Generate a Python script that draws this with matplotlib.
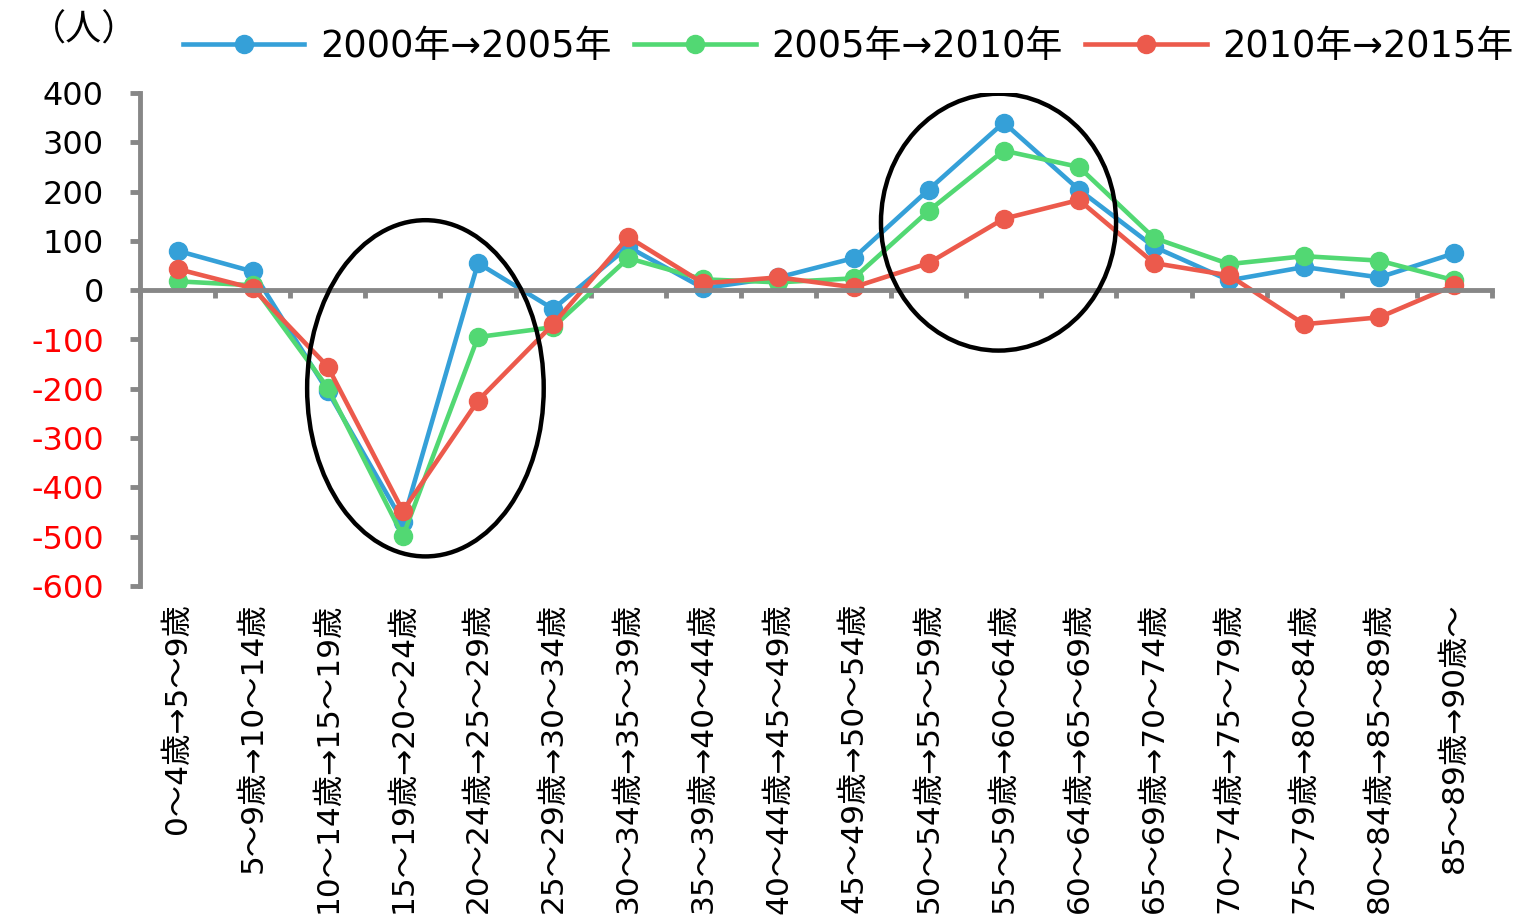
import matplotlib
matplotlib.use("Agg")
import matplotlib.pyplot as plt
from matplotlib.patches import Ellipse
import numpy as np

plt.rcParams['font.family'] = ['DejaVu Sans', 'Noto Sans CJK JP']
plt.rcParams['axes.unicode_minus'] = False

categories = ["0〜4歳→5〜9歳", "5〜9歳→10〜14歳", "10〜14歳→15〜19歳", "15〜19歳→20〜24歳",
              "20〜24歳→25〜29歳", "25〜29歳→30〜34歳", "30〜34歳→35〜39歳", "35〜39歳→40〜44歳",
              "40〜44歳→45〜49歳", "45〜49歳→50〜54歳", "50〜54歳→55〜59歳", "55〜59歳→60〜64歳",
              "60〜64歳→65〜69歳", "65〜69歳→70〜74歳", "70〜74歳→75〜79歳", "75〜79歳→80〜84歳",
              "80〜84歳→85〜89歳", "85〜89歳→90歳〜"]
series_names = ["2000年→2005年", "2005年→2010年", "2010年→2015年"]
s2000_2005 = [80, 38, -205, -470, 55, -38, 88, 4, 26, 65, 204, 340, 204, 88, 20, 47, 26, 75]
s2005_2010 = [18, 10, -198, -499, -95, -75, 65, 22, 16, 24, 161, 283, 250, 106, 53, 69, 60, 20]
s2010_2015 = [43, 4, -155, -448, -224, -69, 108, 14, 26, 6, 55, 145, 183, 55, 30, -69, -55, 10]
y_ticks = list(range(-600, 401, 100))
unit_label = "（人）"

# highlight ellipses (center x, center y, width, height) in data units
ellipses = [(3.30, -199, 3.15, 682), (10.93, 138, 3.13, 521)]

colors = ["#35A0D8", "#52D873", "#EC5A4C"]
axis_gray = "#878787"

fig = plt.figure(figsize=(15.27, 9.22), dpi=100)
ax = fig.add_axes([140/1527, 1 - 586/922, (1492-140)/1527, (586-93)/922])

x = np.arange(len(categories))
for vals, c, name in zip([s2000_2005, s2005_2010, s2010_2015], colors, series_names):
    ax.plot(x, vals, color=c, lw=3.3, marker='o', markersize=13, label=name,
            solid_joinstyle='round')

for cx, cy, w, h in ellipses:
    ax.add_patch(Ellipse((cx, cy), w, h, fill=False, edgecolor='black', lw=3.2, zorder=5))

ax.set_xlim(-0.5, len(categories) - 0.5)
ax.set_ylim(-600, 400)

for s in ['top', 'right']:
    ax.spines[s].set_visible(False)
ax.spines['left'].set_color(axis_gray)
ax.spines['left'].set_linewidth(3.5)
ax.spines['bottom'].set_color(axis_gray)
ax.spines['bottom'].set_linewidth(3.5)
ax.spines['bottom'].set_position(('data', 0))

ax.set_yticks(y_ticks)
ax.tick_params(axis='y', direction='out', length=7, width=3.5, color=axis_gray,
               labelsize=23, pad=19)
for lab, v in zip(ax.get_yticklabels(), y_ticks):
    lab.set_color('#FF0000' if v < 0 else 'black')

ax.set_xticks(np.arange(len(categories) + 1) - 0.5)
ax.set_xticklabels([])
ax.tick_params(axis='x', direction='out', length=6, width=3.5, color=axis_gray)

sec = ax.secondary_xaxis('bottom')
sec.set_xticks(x)
sec.set_xticklabels(categories, rotation=90, fontsize=22.5)
sec.tick_params(axis='x', length=0, pad=12)
sec.spines['bottom'].set_visible(False)

fig.text(30/1527, 1 - 30/922, unit_label, fontsize=26, ha='left', va='center')

fig.legend(loc='center left', bbox_to_anchor=(183/1527, 1 - 46/922), ncol=3,
           frameon=False, fontsize=26.5, handlelength=3.3, handletextpad=0.42,
           columnspacing=0.62, borderpad=0, borderaxespad=0)

fig.savefig("out.png", dpi=100)
